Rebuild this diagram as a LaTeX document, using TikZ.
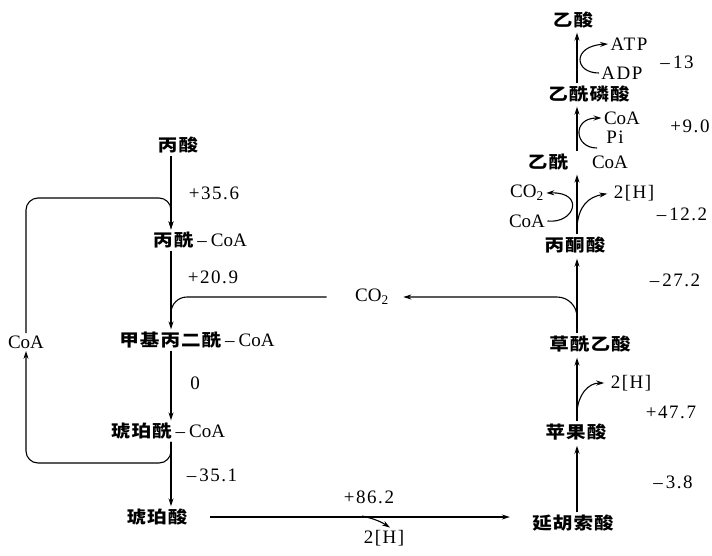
\documentclass[tikz,border=0pt]{standalone}
\usepackage{fontspec}
\setmainfont{Liberation Serif}
\newfontfamily\cjkfam{Noto Sans CJK SC}[FakeStretch=1.15,LetterSpace=6]
\newfontfamily\lspfam{Liberation Serif}[LetterSpace=8]
\usetikzlibrary{arrows.meta}
\newcommand\zhtext[1]{{\fontsize{17}{19}\selectfont\cjkfam\bfseries #1}}
\newcommand\dashsep{\hspace{4pt}–\hspace{4pt}}
\tikzset{
  zh/.style={font=\fontsize{17}{19}\selectfont\cjkfam\bfseries, inner sep=2pt},
  lt/.style={font=\fontsize{19}{21}\selectfont, inner sep=2pt},
  num/.style={font=\fontsize{19}{21}\selectfont\lspfam, inner sep=2pt},
  arr/.style={-{Stealth[length=8pt,width=5pt]}},
  every path/.style={line width=1.1pt}
}
\begin{document}
\begin{tikzpicture}[x=1pt,y=-1pt]
\useasboundingbox (0,0) rectangle (712,555);
% column guides
\coordinate (L) at (171,0);
\coordinate (R) at (577,0);
% ---------------- left column
\node[zh] (bs) at (178,145) {丙酸};
\node[lt] (bc) at (200,240) {\zhtext{丙酰}\dashsep CoA};
\node[lt] (mm) at (197,340) {\zhtext{甲基丙二酰}\dashsep CoA};
\node[lt] (sc) at (168,431) {\zhtext{琥珀酰}\dashsep CoA};
\node[zh] (sa) at (157,517) {琥珀酸};
\node[lt] (coa) at (26,342) {CoA};
\node[num] (e1) at (214,193) {+35.6};
\node[num] (e2) at (213,277) {+20.9};
\node[num] (e3) at (195,383) {0};
\node[num] (e4) at (212,475) {–\,35.1};
\coordinate (ltop) at (171,198);
\coordinate (lbot) at (171,463);
\coordinate (lj) at (171,314);

\draw[arr] (bs.south -| L) -- (bc.north -| L);
\draw[arr] (bc.south -| L) -- (mm.north -| L);
\draw[arr] (mm.south -| L) -- (sc.north -| L);
\draw[arr] (sc.south -| L) -- (sa.north -| L);
\draw[arr, rounded corners=12pt] (coa.north) |- (ltop) -- (bc.north -| L);
\draw[arr, rounded corners=12pt] (sc.south -| L) |- (coa.south |- lbot) -- (coa.south);

% ---------------- middle
\node[lt] (co2) at (372,297) {CO\textsubscript{2}};
\draw[rounded corners=16pt, shorten <=26pt] (co2.west) -| (lj);
\coordinate (rj) at (577,316);
\draw[arr, rounded corners=20pt, shorten >=12pt] (rj) |- (co2.east);

% ---------------- right column
\node[zh] (ac) at (573,20) {乙酸};
\node[zh] (ap) at (589,94) {乙酰磷酸};
\node[zh] (acoa1) at (548,162) {乙酰};
\node[lt] (acoa2) at (610,162) {CoA};
\node[zh] (py) at (575,245) {丙酮酸};
\node[zh] (oaa) at (590,344) {草酰乙酸};
\node[zh] (mal) at (576,432) {苹果酸};
\node[zh] (fum) at (573,523) {延胡索酸};

\node[num] (atp) at (629,44) {ATP};
\node[num] (adp) at (622,73) {ADP};
\node[num] (e5) at (677,62) {–\,13};
\node[lt] (coat) at (622,118) {CoA};
\node[num] (pi) at (615,137) {Pi};
\node[num] (e6) at (690,126) {+9.0};
\node[lt] (co2b) at (527,193) {CO\textsubscript{2}};
\node[lt] (coab) at (527,221) {CoA};
\node[num] (h1) at (634,193) {2[H]};
\node[num] (e7) at (682,214) {–\,12.2};
\node[num] (e8) at (675,280) {–\,27.2};
\node[num] (h2) at (631,383) {2[H]};
\node[num] (e9) at (671,412) {+47.7};
\node[num] (e10) at (673,482) {–\,3.8};

\draw[arr, shorten >=2pt] (ap.north -| R) -- (ac.south -| R);
\draw[arr, shorten >=2pt] (acoa1.north -| R) -- (ap.south -| R);
\draw[arr, shorten >=2pt] (py.north -| R) -- (acoa1.south -| R);
\draw[arr, shorten >=3pt] (oaa.north -| R) -- (py.south -| R);
\draw[arr, shorten >=3pt] (mal.north -| R) -- (oaa.south -| R);
\draw[arr, shorten >=3pt] (fum.north -| R) -- (mal.south -| R);

% side reactions
\draw[arr] (adp.west) .. controls (574,73) and (572,46) .. (atp.west);
\coordinate (pistart) at (597,148);
\draw[arr] (pistart) .. controls (574,148) and (572,118) .. (coat.west);
\draw[arr] (coab.east) .. controls (575,224) and (585,192) .. (co2b.east);
\coordinate (hb1) at (577,226);
\draw[arr, shorten >=4pt] (hb1) .. controls (579,206) and (588,197) .. (h1.west);
\coordinate (hb2) at (577,412);
\draw[arr, shorten >=4pt] (hb2) .. controls (578,395) and (588,383) .. (h2.west);

% ---------------- bottom
\node[num] (e11) at (369,497) {+86.2};
\node[num] (h3) at (384,538) {2[H]};
\draw[arr, shorten <=20pt, shorten >=20pt] (sa.east) -- (sa.east -| fum.west);
\coordinate (hb3) at (362,516);
\draw[arr] (hb3) .. controls (376,519) and (383,523) .. ([xshift=6pt]h3.north);
\end{tikzpicture}
\end{document}
